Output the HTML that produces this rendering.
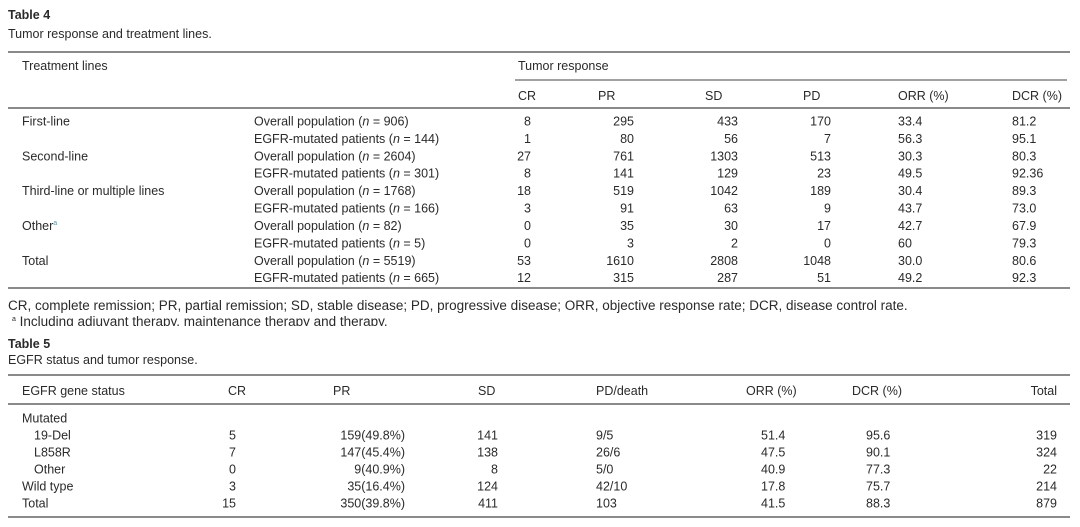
<!DOCTYPE html>
<html><head><meta charset="utf-8"><style>
html,body{margin:0;padding:0;background:#fff;}
svg{display:block;}
text{font-family:"Liberation Sans",sans-serif;font-size:12.5px;fill:#2a2a2a;}
.b{font-weight:bold;}
.e{text-anchor:end;}
</style></head><body>
<svg width="1080" height="527" viewBox="0 0 1080 527">
<text x="8" y="19" class="b">Table 4</text>
<text x="8" y="38">Tumor response and treatment lines.</text>
<line x1="8" y1="52" x2="1070" y2="52" stroke="#444" stroke-width="1.2"/>
<text x="22" y="70">Treatment lines</text>
<text x="518" y="70">Tumor response</text>
<line x1="515" y1="80" x2="1067" y2="80" stroke="#444" stroke-width="1"/>
<text x="518" y="100">CR</text><text x="598" y="100">PR</text><text x="705" y="100">SD</text>
<text x="803" y="100">PD</text><text x="898" y="100">ORR (%)</text><text x="1012" y="100">DCR (%)</text>
<line x1="8" y1="108" x2="1070" y2="108" stroke="#444" stroke-width="1.2"/>
<g>
<text x="22" y="125.5">First-line</text>
<text x="22" y="160.3">Second-line</text>
<text x="22" y="195.1">Third-line or multiple lines</text>
<text x="22" y="230">Other<tspan font-size="7" dy="-5" fill="#4a9ab0">a</tspan></text>
<text x="22" y="265">Total</text>
<text x="254" y="125.5">Overall population (<tspan font-style="italic">n</tspan> = 906)</text>
<text x="254" y="142.9">EGFR-mutated patients (<tspan font-style="italic">n</tspan> = 144)</text>
<text x="254" y="160.3">Overall population (<tspan font-style="italic">n</tspan> = 2604)</text>
<text x="254" y="177.7">EGFR-mutated patients (<tspan font-style="italic">n</tspan> = 301)</text>
<text x="254" y="195.1">Overall population (<tspan font-style="italic">n</tspan> = 1768)</text>
<text x="254" y="212.5">EGFR-mutated patients (<tspan font-style="italic">n</tspan> = 166)</text>
<text x="254" y="230">Overall population (<tspan font-style="italic">n</tspan> = 82)</text>
<text x="254" y="247.4">EGFR-mutated patients (<tspan font-style="italic">n</tspan> = 5)</text>
<text x="254" y="265">Overall population (<tspan font-style="italic">n</tspan> = 5519)</text>
<text x="254" y="282.2">EGFR-mutated patients (<tspan font-style="italic">n</tspan> = 665)</text>
</g>
<g>
<text class="e" x="531" y="125.5">8</text><text class="e" x="531" y="142.9">1</text><text class="e" x="531" y="160.3">27</text><text class="e" x="531" y="177.7">8</text><text class="e" x="531" y="195.1">18</text><text class="e" x="531" y="212.5">3</text><text class="e" x="531" y="230">0</text><text class="e" x="531" y="247.4">0</text><text class="e" x="531" y="265">53</text><text class="e" x="531" y="282.2">12</text>
<text class="e" x="634" y="125.5">295</text><text class="e" x="634" y="142.9">80</text><text class="e" x="634" y="160.3">761</text><text class="e" x="634" y="177.7">141</text><text class="e" x="634" y="195.1">519</text><text class="e" x="634" y="212.5">91</text><text class="e" x="634" y="230">35</text><text class="e" x="634" y="247.4">3</text><text class="e" x="634" y="265">1610</text><text class="e" x="634" y="282.2">315</text>
<text class="e" x="738" y="125.5">433</text><text class="e" x="738" y="142.9">56</text><text class="e" x="738" y="160.3">1303</text><text class="e" x="738" y="177.7">129</text><text class="e" x="738" y="195.1">1042</text><text class="e" x="738" y="212.5">63</text><text class="e" x="738" y="230">30</text><text class="e" x="738" y="247.4">2</text><text class="e" x="738" y="265">2808</text><text class="e" x="738" y="282.2">287</text>
<text class="e" x="831" y="125.5">170</text><text class="e" x="831" y="142.9">7</text><text class="e" x="831" y="160.3">513</text><text class="e" x="831" y="177.7">23</text><text class="e" x="831" y="195.1">189</text><text class="e" x="831" y="212.5">9</text><text class="e" x="831" y="230">17</text><text class="e" x="831" y="247.4">0</text><text class="e" x="831" y="265">1048</text><text class="e" x="831" y="282.2">51</text>
</g>
<g>
<text x="898" y="125.5">33.4</text><text x="898" y="142.9">56.3</text><text x="898" y="160.3">30.3</text><text x="898" y="177.7">49.5</text><text x="898" y="195.1">30.4</text><text x="898" y="212.5">43.7</text><text x="898" y="230">42.7</text><text x="898" y="247.4">60</text><text x="898" y="265">30.0</text><text x="898" y="282.2">49.2</text>
<text x="1012" y="125.5">81.2</text><text x="1012" y="142.9">95.1</text><text x="1012" y="160.3">80.3</text><text x="1012" y="177.7">92.36</text><text x="1012" y="195.1">89.3</text><text x="1012" y="212.5">73.0</text><text x="1012" y="230">67.9</text><text x="1012" y="247.4">79.3</text><text x="1012" y="265">80.6</text><text x="1012" y="282.2">92.3</text>
</g>
<line x1="8" y1="288" x2="1070" y2="288" stroke="#444" stroke-width="1.2"/>
<text x="8" y="310" style="font-size:13.5px">CR, complete remission; PR, partial remission; SD, stable disease; PD, progressive disease; ORR, objective response rate; DCR, disease control rate.</text>
<svg x="0" y="315" width="1080" height="11" overflow="hidden"><text x="12" y="11" style="font-size:13.5px"><tspan font-size="7" dy="-5">a</tspan><tspan dy="5"> Including adjuvant therapy, maintenance therapy and therapy.</tspan></text></svg>
<text x="8" y="348" class="b">Table 5</text>
<text x="8" y="364">EGFR status and tumor response.</text>
<line x1="8" y1="375" x2="1070" y2="375" stroke="#444" stroke-width="1.2"/>
<text x="22" y="395">EGFR gene status</text><text x="228" y="395">CR</text><text x="333" y="395">PR</text><text x="478" y="395">SD</text><text x="596" y="395">PD/death</text><text x="746" y="395">ORR (%)</text><text x="852" y="395">DCR (%)</text><text class="e" x="1057" y="395">Total</text>
<line x1="8" y1="404" x2="1070" y2="404" stroke="#444" stroke-width="1.2"/>
<text x="22" y="422.5">Mutated</text>
<text x="34" y="439.5">19-Del</text><text x="34" y="456.5">L858R</text><text x="34" y="473.5">Other</text>
<text x="22" y="490.5">Wild type</text><text x="22" y="507.5">Total</text>
<text class="e" x="236" y="439.5">5</text><text class="e" x="236" y="456.5">7</text><text class="e" x="236" y="473.5">0</text><text class="e" x="236" y="490.5">3</text><text class="e" x="236" y="507.5">15</text>
<text class="e" x="405" y="439.5">159(49.8%)</text><text class="e" x="405" y="456.5">147(45.4%)</text><text class="e" x="405" y="473.5">9(40.9%)</text><text class="e" x="405" y="490.5">35(16.4%)</text><text class="e" x="405" y="507.5">350(39.8%)</text>
<text class="e" x="498" y="439.5">141</text><text class="e" x="498" y="456.5">138</text><text class="e" x="498" y="473.5">8</text><text class="e" x="498" y="490.5">124</text><text class="e" x="498" y="507.5">411</text>
<text x="596" y="439.5">9/5</text><text x="596" y="456.5">26/6</text><text x="596" y="473.5">5/0</text><text x="596" y="490.5">42/10</text><text x="596" y="507.5">103</text>
<text x="761" y="439.5">51.4</text><text x="761" y="456.5">47.5</text><text x="761" y="473.5">40.9</text><text x="761" y="490.5">17.8</text><text x="761" y="507.5">41.5</text>
<text x="866" y="439.5">95.6</text><text x="866" y="456.5">90.1</text><text x="866" y="473.5">77.3</text><text x="866" y="490.5">75.7</text><text x="866" y="507.5">88.3</text>
<text class="e" x="1057" y="439.5">319</text><text class="e" x="1057" y="456.5">324</text><text class="e" x="1057" y="473.5">22</text><text class="e" x="1057" y="490.5">214</text><text class="e" x="1057" y="507.5">879</text>
<line x1="8" y1="517" x2="1070" y2="517" stroke="#444" stroke-width="1.2"/>
</svg>
</body></html>
